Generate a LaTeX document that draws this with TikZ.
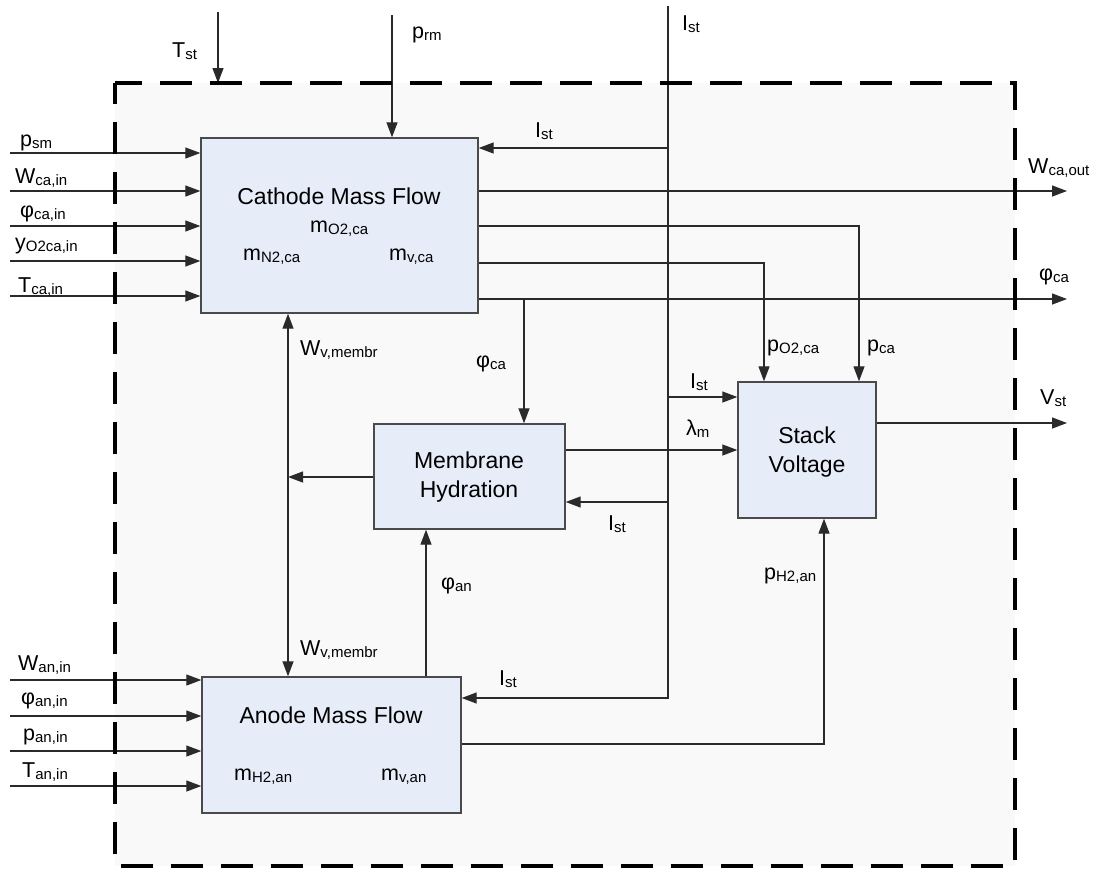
\documentclass[tikz,border=0pt]{standalone}
\usepackage{fontspec}
\setmainfont{Liberation Sans}
\usetikzlibrary{arrows.meta}
\definecolor{boxfill}{HTML}{E6EDF8}
\definecolor{bgfill}{HTML}{F9F9F9}
\definecolor{linec}{HTML}{2A2A2A}
\definecolor{boxline}{HTML}{4A4A4A}
\newcommand\sbs[1]{\raisebox{-2.5pt}{\fontsize{15}{15}\selectfont #1}}
\tikzset{
  blk/.style={draw=boxline, line width=1.4pt, fill=boxfill, inner sep=0pt},
  arr/.style={draw=linec, line width=1.3pt, -{Triangle[length=15pt,width=11pt]}},
  arrb/.style={draw=linec, line width=1.3pt, {Triangle[length=15pt,width=11pt]}-{Triangle[length=15pt,width=11pt]}},
  ln/.style={draw=linec, line width=1.3pt},
  lab/.style={inner sep=0pt, font=\fontsize{21.5}{24}\selectfont, anchor=base west},
  ttl/.style={inner sep=0pt, font=\fontsize{23}{28}\selectfont, anchor=base},
  border/.style={line width=4pt, dash pattern=on 32pt off 18pt, dash phase=5pt}
}
\begin{document}
\begin{tikzpicture}[x=1pt,y=-1pt]
\useasboundingbox (0,0) rectangle (1094,868);
% background region
\fill[bgfill] (115,83) rectangle (1015,866);

% blocks
\node[blk, minimum width=277pt, minimum height=175pt] (cmf) at (339.5,225.5) {};
\node[blk, minimum width=191pt, minimum height=105pt] (mh) at (469.5,476.5) {};
\node[blk, minimum width=138pt, minimum height=136pt] (svt) at (807,450) {};
\node[blk, minimum width=259pt, minimum height=136pt] (amf) at (331.5,745) {};

% block texts
\node[ttl] (tc) at (339,204) {Cathode Mass Flow};
\node[lab] (mo2) at (310,232) {m\sbs{O2,ca}};
\node[lab] (mn2) at (243,260) {m\sbs{N2,ca}};
\node[lab] (mvca) at (389,260) {m\sbs{v,ca}};
\node[ttl] (tm1) at (469,468) {Membrane};
\node[ttl] (tm2) at (469,497) {Hydration};
\node[ttl] (ts1) at (807,443) {Stack};
\node[ttl] (ts2) at (807,472) {Voltage};
\node[ttl] (ta) at (331,723) {Anode Mass Flow};
\node[lab] (mh2) at (234,780) {m\sbs{H2,an}};
\node[lab] (mvan) at (381,780) {m\sbs{v,an}};

% coordinates for free ends
\coordinate (tst0) at (218,12);
\coordinate (tst1) at (218,83);
\coordinate (prm0) at (392,15);
\coordinate (c1) at (10,153);
\coordinate (c2) at (10,191);
\coordinate (c3) at (10,226);
\coordinate (c4) at (10,261);
\coordinate (c5) at (10,296);
\coordinate (a1) at (10,680);
\coordinate (a2) at (10,716);
\coordinate (a3) at (10,751);
\coordinate (a4) at (10,786);
\coordinate (ist0) at (668,6);
\coordinate (ist1) at (668,698);
\coordinate (b1) at (668,148);
\coordinate (b2) at (668,397);
\coordinate (b3) at (668,502);
\coordinate (wout) at (1067,191);
\coordinate (pca) at (859,226);
\coordinate (po2) at (764,263);
\coordinate (phiout) at (1067,299);
\coordinate (phib) at (524,299);
\coordinate (wv) at (288,400);
\coordinate (mhl) at (288,477);
\coordinate (lam) at (600,450);
\coordinate (phan) at (426,600);
\coordinate (ph2) at (824,744);
\coordinate (vst) at (1067,423);

% connectors
\draw[arr] (tst0) -- (tst1);
\draw[arr] (prm0) -- (prm0 |- cmf.north);
\foreach \c in {c1,c2,c3,c4,c5} \draw[arr] (\c) -- (\c -| cmf.west);
\foreach \c in {a1,a2,a3,a4} \draw[arr] (\c) -- (\c -| amf.west);
\draw[arr] (ist0) -- (ist1) -- (ist1 -| amf.east);
\draw[arr] (b1) -- (b1 -| cmf.east);
\draw[arr] (b2) -- (b2 -| svt.west);
\draw[arr] (b3) -- (b3 -| mh.east);
\draw[arr] (wout -| cmf.east) -- (wout);
\draw[arr] (pca -| cmf.east) -- (pca) -- (pca |- svt.north);
\draw[arr] (po2 -| cmf.east) -- (po2) -- (po2 |- svt.north);
\draw[arr] (phiout -| cmf.east) -- (phiout);
\draw[arr] (phib) -- (phib |- mh.north);
\draw[arrb] (wv |- cmf.south) -- (wv |- amf.north);
\draw[arr] (mhl -| mh.west) -- (mhl);
\draw[arr] (lam -| mh.east) -- (lam -| svt.west);
\draw[arr] (phan |- amf.north) -- (phan |- mh.south);
\draw[arr] (ph2 -| amf.east) -- (ph2) -- (ph2 |- svt.south);
\draw[arr] (vst -| svt.east) -- (vst);

% dashed system border
\draw[border] (115,83) -- (1015,83) -- (1015,866) -- (115,866) -- cycle;

% labels
\node[lab] (lT) at (172,57) {T\sbs{st}};
\node[lab] (lprm) at (412,38) {p\sbs{rm}};
\node[lab] (lIst0) at (682,30) {I\sbs{st}};
\node[lab] (lIst1) at (535,137) {I\sbs{st}};
\node[lab] (lpsm) at (20,146) {p\sbs{sm}};
\node[lab] (lwca) at (15,183) {W\sbs{ca,in}};
\node[lab] (lphica) at (20,217) {φ\sbs{ca,in}};
\node[lab] (ly) at (15,249) {y\sbs{O2ca,in}};
\node[lab] (lTca) at (18,292) {T\sbs{ca,in}};
\node[lab] (lwout) at (1028,173) {W\sbs{ca,out}};
\node[lab] (lphiout) at (1039,280) {φ\sbs{ca}};
\node[lab] (lwv1) at (300,355) {W\sbs{v,membr}};
\node[lab] (lphica2) at (476,367) {φ\sbs{ca}};
\node[lab] (lpo2) at (767,351) {p\sbs{O2,ca}};
\node[lab] (lpca) at (867,351) {p\sbs{ca}};
\node[lab] (lIst2) at (690,388) {I\sbs{st}};
\node[lab] (llam) at (686,435) {λ\sbs{m}};
\node[lab] (lIst3) at (608,530) {I\sbs{st}};
\node[lab] (lvst) at (1040,404) {V\sbs{st}};
\node[lab] (lphan) at (441,589) {φ\sbs{an}};
\node[lab] (lph2) at (764,579) {p\sbs{H2,an}};
\node[lab] (lwv2) at (300,655) {W\sbs{v,membr}};
\node[lab] (lIst4) at (499,685) {I\sbs{st}};
\node[lab] (lwan) at (18,670) {W\sbs{an,in}};
\node[lab] (lphan2) at (21,704) {φ\sbs{an,in}};
\node[lab] (lpan) at (23,740) {p\sbs{an,in}};
\node[lab] (lTan) at (22,777) {T\sbs{an,in}};
\end{tikzpicture}
\end{document}
